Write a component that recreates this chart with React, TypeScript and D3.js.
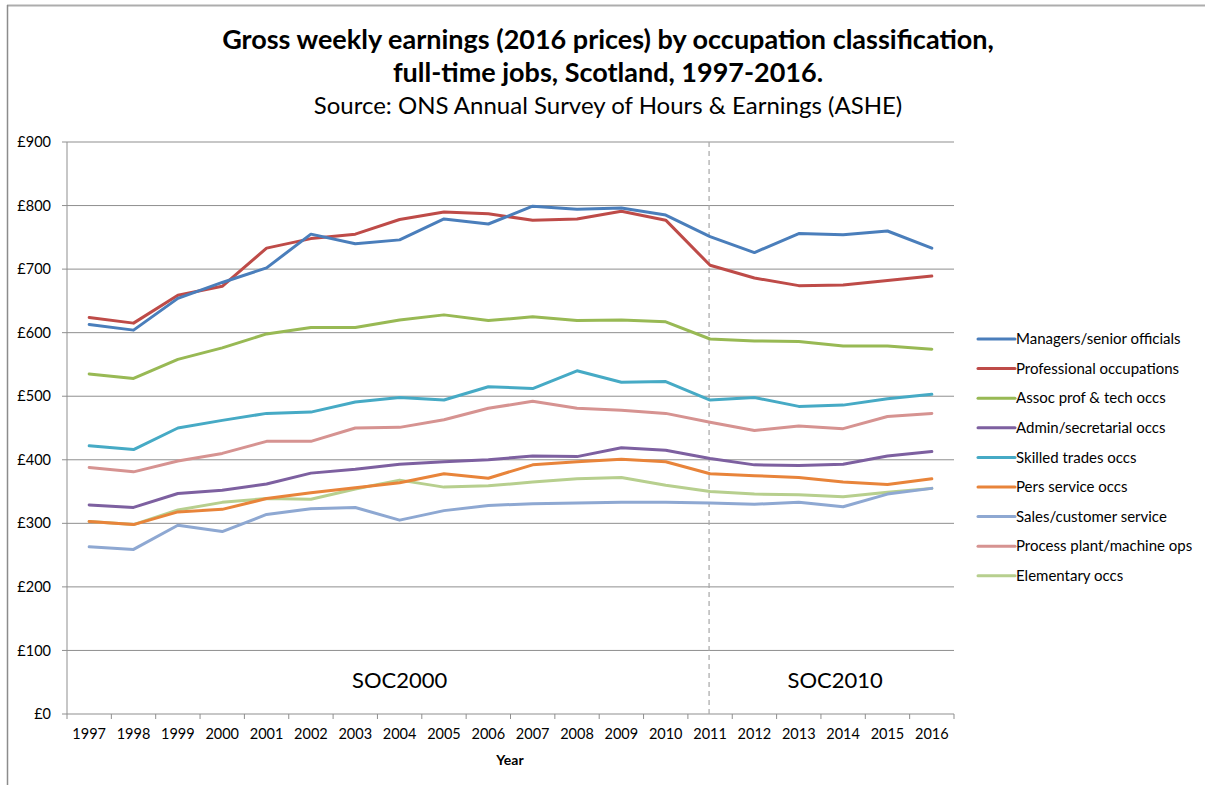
import React from "react";
import * as d3 from "d3";

const years = ["1997","1998","1999","2000","2001","2002","2003","2004","2005","2006","2007","2008","2009","2010","2011","2012","2013","2014","2015","2016"];

const managers = [613,604,654,679,702,755,740,746,779,771,799,794,796,785,751,726,756,754,760,733];
const professional = [624,615,659,673,733,748,755,778,790,787,777,779,791,777,706,686,674,675,682,689];
const assocProf = [535,528,558,576,598,608,608,620,628,619,625,619,620,617,590,587,586,579,579,574];
const admin = [329,325,347,352,362,379,385,393,397,400,406,405,419,415,402,392,391,393,406,413];
const skilledTrades = [422,416,450,462,473,475,491,498,494,515,512,540,522,523,494,498,484,486,496,503];
const persService = [303,298,318,322,339,348,356,364,378,371,392,397,401,397,378,375,372,365,361,370];
const sales = [263,259,297,287,314,323,325,305,320,328,331,332,333,333,332,330,333,326,346,355];
const processPlant = [388,381,398,410,429,429,450,451,463,481,492,481,478,473,459,446,453,449,468,473];
const elementary = [303,298,321,333,339,338,354,368,357,359,365,370,372,360,350,346,345,342,349,355];

const seriesNames = ["Managers/senior officials","Professional occupations","Assoc prof & tech occs","Admin/secretarial occs","Skilled trades occs","Pers service occs","Sales/customer service","Process plant/machine ops","Elementary occs"];
const seriesValues = [managers, professional, assocProf, admin, skilledTrades, persService, sales, processPlant, elementary];
const seriesColors = ["#4A7EBB","#BE4B48","#98B954","#7D60A0","#46AAC5","#E8843A","#8EA8D2","#D69391","#B7CF8E"];

const yTicks = [0,100,200,300,400,500,600,700,800,900];
const dividerYear = "2011";
const eraLabels = [{ label: "SOC2000", year: "2004", offset: 0.5 }, { label: "SOC2010", year: "2014", offset: 0.32 }];

const FONT = "Lato, 'Open Sans', sans-serif";

export default function App() {
  const W = 1205, H = 785;
  const left = 67, right = 954, top = 142, bottom = 714;

  const x = d3.scaleBand().domain(years).range([left, right]);
  const y = d3.scaleLinear().domain([0, 900]).range([bottom, top]);
  const cx = (yr: string) => (x(yr) as number) + x.bandwidth() / 2;

  const line = d3.line<number>()
    .x((_, i) => cx(years[i]))
    .y((d) => y(d));

  const boundaries = years.map((yr) => x(yr) as number).concat([right]);

  return (
    <svg width={W} height={H} style={{ position: "absolute", left: 0, top: 0, background: "#fff" }} fontFamily={FONT}>
      <rect x={0} y={0} width={W} height={H} fill="#fff" />
      {/* outer border */}
      <line x1={7} x2={W} y1={5.5} y2={5.5} stroke="#adadad" strokeWidth={2} />
      <line x1={7.5} x2={7.5} y1={5} y2={H} stroke="#8c8c8c" strokeWidth={1.5} />

      {/* titles */}
      <text x={608} y={49} textAnchor="middle" fontSize={27} fontWeight="bold" fill="#000">
        Gross weekly earnings (2016 prices) by occupation classification,
      </text>
      <text x={608} y={82} textAnchor="middle" fontSize={27} fontWeight="bold" fill="#000">
        full-time jobs, Scotland, 1997-2016.
      </text>
      <text x={608} y={114} textAnchor="middle" fontSize={24} fill="#000">
        Source: ONS Annual Survey of Hours &amp; Earnings (ASHE)
      </text>

      {/* gridlines */}
      {yTicks.map((t) => (
        <line key={"g" + t} x1={left} x2={right} y1={y(t)} y2={y(t)} stroke="#8f8f8f" strokeWidth={1} />
      ))}
      {/* y axis */}
      <line x1={left} x2={left} y1={top} y2={bottom} stroke="#8f8f8f" strokeWidth={1} />
      {yTicks.map((t) => (
        <g key={"yt" + t}>
          <line x1={left - 5} x2={left} y1={y(t)} y2={y(t)} stroke="#8f8f8f" />
          <text x={51} y={y(t)} dy="0.35em" textAnchor="end" fontSize={14.5} fill="#000">
            {"£" + t}
          </text>
        </g>
      ))}
      {/* x axis ticks */}
      {boundaries.map((b, i) => (
        <line key={"xt" + i} x1={b} x2={b} y1={bottom} y2={bottom + 5} stroke="#8f8f8f" />
      ))}
      {years.map((yr) => (
        <text key={"xl" + yr} x={cx(yr)} y={739} textAnchor="middle" fontSize={14.5} fill="#000">
          {yr}
        </text>
      ))}
      <text x={510} y={765} textAnchor="middle" fontSize={14} fontWeight="bold" fill="#000">Year</text>

      {/* divider */}
      <line x1={cx(dividerYear) - 1} x2={cx(dividerYear) - 1} y1={top} y2={bottom} stroke="#a6a6a6" strokeWidth={1.2} strokeDasharray="5,4" />

      {eraLabels.map((e) => (
        <text key={e.label} x={(x(e.year) as number) + x.bandwidth() * e.offset} y={688} textAnchor="middle" fontSize={22} fill="#000">
          {e.label}
        </text>
      ))}

      {/* lines */}
      {seriesValues.slice().reverse().map((vals, ri) => {
        const i = seriesValues.length - 1 - ri;
        return (
          <path key={"l" + i} d={line(vals) || ""} fill="none" stroke={seriesColors[i]} strokeWidth={3} strokeLinejoin="round" strokeLinecap="round" />
        );
      })}

      {/* legend */}
      {seriesNames.map((n, i) => {
        const ly = 339 + i * 29.6;
        return (
          <g key={"lg" + i}>
            <line x1={978} x2={1015} y1={ly} y2={ly} stroke={seriesColors[i]} strokeWidth={3} strokeLinecap="round" />
            <text x={1016} y={ly} dy="0.35em" fontSize={15} fill="#000">{n}</text>
          </g>
        );
      })}
    </svg>
  );
}
